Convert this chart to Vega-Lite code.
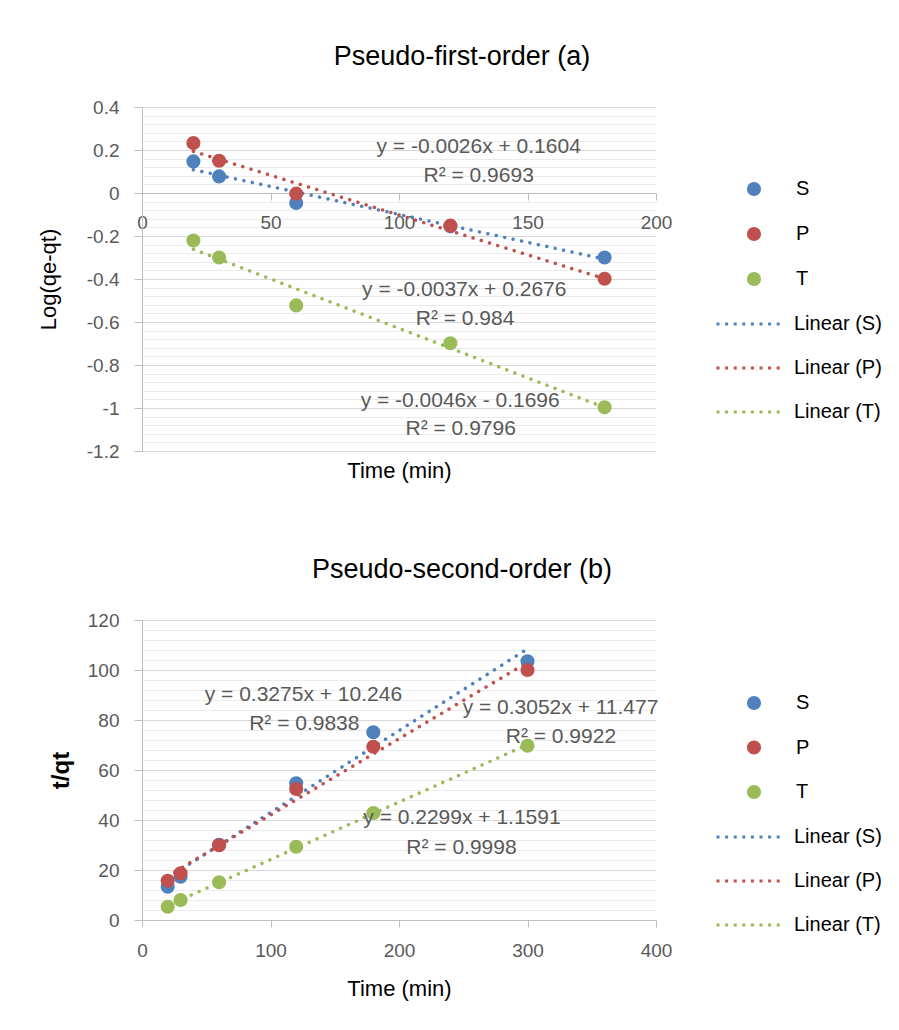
{
  "$schema": "https://vega.github.io/schema/vega-lite/v6.json",
  "background": "white",
  "padding": {"left": 37, "top": 43, "right": 5, "bottom": 5},
  "bounds": "flush",
  "spacing": 169,
  "resolve": {"scale": {"fill": "independent", "stroke": "independent"}, "legend": {"fill": "independent", "stroke": "independent"}},
  "config": {
    "font": "Liberation Sans",
    "view": {"stroke": null},
    "axis": {
      "labelFont": "Liberation Sans", "labelFontSize": 19, "labelColor": "#595959",
      "titleFont": "Liberation Sans", "titleFontSize": 22, "titleColor": "#000000", "titleFontWeight": "normal",
      "domainColor": "#bfbfbf", "tickColor": "#bfbfbf", "gridColor": "#d9d9d9", "labelOverlap": false, "labelFlush": false
    },
    "title": {"font": "Liberation Sans", "fontSize": 27, "fontWeight": "normal", "color": "#000000", "anchor": "middle", "frame": "group", "dx": 63, "offset": 27, "baseline": "alphabetic"},
    "legend": {"labelFont": "Liberation Sans", "labelFontSize": 20, "labelColor": "#000000", "padding": 0}
  },
  "vconcat": [
    {
      "width": 514,
      "height": 344,
      "title": {"text": "Pseudo-first-order (a)"},
      "encoding": {
        "x": {"field": "x", "type": "quantitative", "scale": {"domain": [0, 200], "nice": false, "zero": false},
          "axis": {"values": [0, 50, 100, 150, 200], "grid": false, "offset": -258, "title": "Time (min)", "titlePadding": 228, "tickSize": 7, "labelPadding": 13}},
        "y": {"field": "y", "type": "quantitative", "scale": {"domain": [-1.2, 0.4], "nice": false, "zero": false},
          "axis": {
            "values": [0.4, 0.36, 0.32, 0.28, 0.24, 0.2, 0.16, 0.12, 0.08, 0.04, 0, -0.04, -0.08, -0.12, -0.16, -0.2, -0.24, -0.28, -0.32, -0.36, -0.4, -0.44, -0.48, -0.52, -0.56, -0.6, -0.64, -0.68, -0.72, -0.76, -0.8, -0.84, -0.88, -0.92, -0.96, -1, -1.04, -1.08, -1.12, -1.16, -1.2],
            "title": "Log(qe-qt)", "titlePadding": 26, "grid": true,
            "gridColor": {"condition": {"test": "abs(datum.value*5 - round(datum.value*5)) < 0.001", "value": "#d9d9d9"}, "value": "#ebebeb"},
            "tickOpacity": {"condition": {"test": "abs(datum.value*5 - round(datum.value*5)) < 0.001", "value": 1}, "value": 0},
            "labelExpr": "abs(datum.value*5 - round(datum.value*5)) < 0.001 ? '' + datum.value : ''",
            "tickSize": 8, "labelPadding": 15
          }}
      },
      "layer": [
        {
          "data": {"values": [
            {"line": "Linear (S)", "x": 20, "y": 0.1084},
            {"line": "Linear (S)", "x": 180, "y": -0.3076},
            {"line": "Linear (P)", "x": 20, "y": 0.1936},
            {"line": "Linear (P)", "x": 180, "y": -0.3984},
            {"line": "Linear (T)", "x": 20, "y": -0.2616},
            {"line": "Linear (T)", "x": 180, "y": -0.9976}
          ]},
          "mark": {"type": "line", "strokeWidth": 3.5, "strokeDash": [0.01, 8.6], "strokeCap": "round"},
          "encoding": {
            "stroke": {"field": "line", "type": "nominal",
              "scale": {"domain": ["Linear (S)", "Linear (P)", "Linear (T)"], "range": ["#4F81BD", "#C0504D", "#9BBB59"]},
              "legend": {"title": null, "orient": "none", "legendX": 573, "legendY": 183, "symbolType": "stroke", "symbolSize": 4225, "symbolStrokeWidth": 3, "symbolDash": [3, 5.6], "labelOffset": 11, "rowPadding": -24.5}}
          }
        },
        {
          "data": {"values": [
            {"s": "S", "x": 20, "y": 0.147}, {"s": "S", "x": 30, "y": 0.077}, {"s": "S", "x": 60, "y": -0.046}, {"s": "S", "x": 120, "y": -0.155}, {"s": "S", "x": 180, "y": -0.3},
            {"s": "P", "x": 20, "y": 0.232}, {"s": "P", "x": 30, "y": 0.15}, {"s": "P", "x": 60, "y": -0.003}, {"s": "P", "x": 120, "y": -0.152}, {"s": "P", "x": 180, "y": -0.399},
            {"s": "T", "x": 20, "y": -0.221}, {"s": "T", "x": 30, "y": -0.3}, {"s": "T", "x": 60, "y": -0.523}, {"s": "T", "x": 120, "y": -0.699}, {"s": "T", "x": 180, "y": -0.997}
          ]},
          "mark": {"type": "point", "filled": true, "size": 200, "opacity": 1, "strokeWidth": 0},
          "encoding": {
            "fill": {"field": "s", "type": "nominal",
              "scale": {"domain": ["S", "P", "T"], "range": ["#4F81BD", "#C0504D", "#9BBB59"]},
              "legend": {"title": null, "orient": "none", "legendX": 600, "legendY": 72, "symbolType": "circle", "symbolSize": 200, "symbolOffset": 2, "symbolStrokeWidth": 0, "labelOffset": 32, "rowPadding": 25}}
          }
        },
        {
          "data": {"values": [
            {"t": "y = -0.0026x + 0.1604", "x": 131, "y": 0.213},
            {"t": "R² = 0.9693", "x": 131, "y": 0.08},
            {"t": "y = -0.0037x + 0.2676", "x": 125.4, "y": -0.453},
            {"t": "R² = 0.984", "x": 125.7, "y": -0.588},
            {"t": "y = -0.0046x - 0.1696", "x": 123.8, "y": -0.967},
            {"t": "R² = 0.9796", "x": 124, "y": -1.098}
          ]},
          "mark": {"type": "text", "fontSize": 21, "fill": "#595959", "font": "Liberation Sans", "align": "center", "baseline": "middle"},
          "encoding": {"text": {"field": "t"}}
        }
      ]
    },
    {
      "width": 514,
      "height": 300,
      "title": {"text": "Pseudo-second-order (b)"},
      "encoding": {
        "x": {"field": "x", "type": "quantitative", "scale": {"domain": [0, 400], "nice": false, "zero": false},
          "axis": {"values": [0, 100, 200, 300, 400], "grid": false, "title": "Time (min)", "titlePadding": 18, "tickSize": 7, "labelPadding": 14}},
        "y": {"field": "y", "type": "quantitative", "scale": {"domain": [0, 120], "nice": false, "zero": false},
          "axis": {
            "values": [0, 4, 8, 12, 16, 20, 24, 28, 32, 36, 40, 44, 48, 52, 56, 60, 64, 68, 72, 76, 80, 84, 88, 92, 96, 100, 104, 108, 112, 116, 120],
            "title": "t/qt", "titleFontWeight": "bold", "titleFontSize": 24, "titlePadding": 14, "grid": true,
            "gridColor": {"condition": {"test": "datum.value % 20 === 0", "value": "#d9d9d9"}, "value": "#ebebeb"},
            "tickOpacity": {"condition": {"test": "datum.value % 20 === 0", "value": 1}, "value": 0},
            "labelExpr": "datum.value % 20 === 0 ? '' + datum.value : ''",
            "tickSize": 8, "labelPadding": 15
          }}
      },
      "layer": [
        {
          "data": {"values": [
            {"line": "Linear (S)", "x": 20, "y": 16.796},
            {"line": "Linear (S)", "x": 300, "y": 108.496},
            {"line": "Linear (P)", "x": 20, "y": 17.581},
            {"line": "Linear (P)", "x": 300, "y": 103.037},
            {"line": "Linear (T)", "x": 20, "y": 5.757},
            {"line": "Linear (T)", "x": 300, "y": 70.129}
          ]},
          "mark": {"type": "line", "strokeWidth": 3.5, "strokeDash": [0.01, 8.6], "strokeCap": "round"},
          "encoding": {
            "stroke": {"field": "line", "type": "nominal",
              "scale": {"domain": ["Linear (S)", "Linear (P)", "Linear (T)"], "range": ["#4F81BD", "#C0504D", "#9BBB59"]},
              "legend": {"title": null, "orient": "none", "legendX": 573, "legendY": 183, "symbolType": "stroke", "symbolSize": 4225, "symbolStrokeWidth": 3, "symbolDash": [3, 5.6], "labelOffset": 11, "rowPadding": -23.5}}
          }
        },
        {
          "data": {"values": [
            {"s": "S", "x": 20, "y": 13.3}, {"s": "S", "x": 30, "y": 17.3}, {"s": "S", "x": 60, "y": 30.1}, {"s": "S", "x": 120, "y": 54.7}, {"s": "S", "x": 180, "y": 75.1}, {"s": "S", "x": 300, "y": 103.5},
            {"s": "P", "x": 20, "y": 15.7}, {"s": "P", "x": 30, "y": 18.7}, {"s": "P", "x": 60, "y": 29.9}, {"s": "P", "x": 120, "y": 52.4}, {"s": "P", "x": 180, "y": 69.3}, {"s": "P", "x": 300, "y": 100.0},
            {"s": "T", "x": 20, "y": 5.3}, {"s": "T", "x": 30, "y": 8.0}, {"s": "T", "x": 60, "y": 15.1}, {"s": "T", "x": 120, "y": 29.3}, {"s": "T", "x": 180, "y": 42.8}, {"s": "T", "x": 300, "y": 69.7}
          ]},
          "mark": {"type": "point", "filled": true, "size": 200, "opacity": 1, "strokeWidth": 0},
          "encoding": {
            "fill": {"field": "s", "type": "nominal",
              "scale": {"domain": ["S", "P", "T"], "range": ["#4F81BD", "#C0504D", "#9BBB59"]},
              "legend": {"title": null, "orient": "none", "legendX": 600, "legendY": 73, "symbolType": "circle", "symbolSize": 200, "symbolOffset": 2, "symbolStrokeWidth": 0, "labelOffset": 32, "rowPadding": 24.5}}
          }
        },
        {
          "data": {"values": [
            {"t": "y = 0.3275x + 10.246", "x": 125.6, "y": 90.1},
            {"t": "R² = 0.9838", "x": 126.3, "y": 78.6},
            {"t": "y = 0.3052x + 11.477", "x": 325.7, "y": 85.0},
            {"t": "R² = 0.9922", "x": 326, "y": 73.3},
            {"t": "y = 0.2299x + 1.1591", "x": 249, "y": 41.0},
            {"t": "R² = 0.9998", "x": 248.6, "y": 29.0}
          ]},
          "mark": {"type": "text", "fontSize": 21, "fill": "#595959", "font": "Liberation Sans", "align": "center", "baseline": "middle"},
          "encoding": {"text": {"field": "t"}}
        }
      ]
    }
  ]
}
